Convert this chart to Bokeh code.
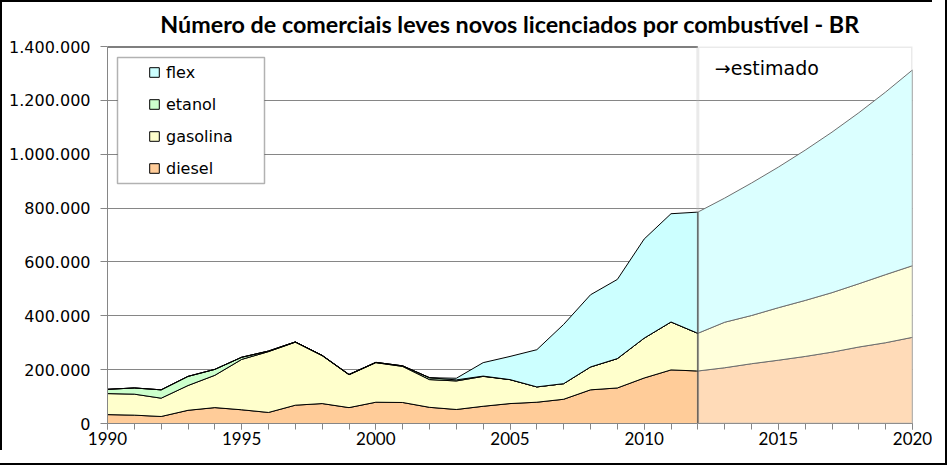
import numpy as np
from bokeh.plotting import figure
from bokeh.models import (Range1d, FixedTicker, Legend, LegendItem, BoxAnnotation, Label)
from bokeh.embed import file_html
from bokeh.resources import INLINE

title_text = "Número de comerciais leves novos licenciados por combustível - BR"
estimated_text = "→estimado"

# historical data (licensed units per fuel)
years_hist = list(range(1990, 2013))
diesel_hist = [33000, 31000, 26000, 49000, 59000, 51000, 41000, 68000, 74000, 59000,
               79000, 78000, 60000, 52000, 64000, 74000, 79000, 90000, 125000, 132000,
               169000, 199000, 195000]
gasolina_hist = [78000, 78000, 68000, 92000, 120000, 187000, 226000, 234000, 178000, 122000,
                 147000, 134000, 103000, 106000, 111000, 89000, 57000, 58000, 85000, 109000,
                 148000, 178000, 140000]
etanol_hist = [16000, 23000, 31000, 34000, 22000, 8000, 2000, 1000, 1000, 1000,
               1000, 2000, 7000, 4000, 1000, 0, 0, 0, 0, 0,
               0, 0, 0]
flex_hist = [0, 0, 0, 0, 0, 0, 0, 0, 0, 0,
             0, 0, 0, 6000, 50000, 86000, 138000, 220000, 268000, 294000,
             368000, 402000, 450000]

# estimated data
years_est = list(range(2012, 2021))
diesel_est = [195000, 207000, 222000, 235000, 249000, 265000, 284000, 300000, 320000]
gasolina_est = [140000, 169000, 179000, 195000, 208000, 221000, 235000, 253000, 266000]
flex_est = [450000, 461000, 492000, 522000, 558000, 596000, 635000, 678000, 727000]

y_ticks = [0, 200000, 400000, 600000, 800000, 1000000, 1200000, 1400000]
y_tick_labels = ["0", "200.000", "400.000", "600.000", "800.000", "1.000.000", "1.200.000", "1.400.000"]
x_ticks = [1990, 1995, 2000, 2005, 2010, 2015, 2020]
x_tick_labels = ["1990", "1995", "2000", "2005", "2010", "2015", "2020"]
x_minor = list(range(1990, 2021))

col_hist = {"diesel": "#FFCC99", "gasolina": "#FFFFCC", "etanol": "#CCFFCC", "flex": "#CCFFFF"}
col_est = {"diesel": "#FFDBB8", "gasolina": "#FFFFDB", "flex": "#DBFFFF"}

p = figure(width=932, height=450, output_backend="svg", toolbar_location=None,
           x_range=Range1d(x_ticks[0], x_ticks[-1]), y_range=Range1d(y_ticks[0], y_ticks[-1]),
           min_border_left=105, min_border_right=22, min_border_top=43, min_border_bottom=29)
p.outline_line_color = None
p.background_fill_color = "white"
p.border_fill_color = "white"
p.styles = {"border-left": "2px solid black", "border-top": "2px solid black",
            "outline": "2px solid black", "outline-offset": "13px"}

p.title.text = title_text
p.title.text_font = "Lato"
p.title.text_font_style = "bold"
p.title.text_font_size = "23.3px"
p.title.text_color = "black"
p.title.align = "center"
p.title.vertical_align = "top"
p.title.standoff = 14


def stack_patches(years, layers, colors, line_color):
    yrs = np.array(years, dtype=float)
    base = np.zeros(len(years))
    rends = {}
    for name, vals in layers:
        top = base + np.array(vals, dtype=float)
        xs = np.concatenate([yrs, yrs[::-1]])
        ys = np.concatenate([top, base[::-1]])
        rends[name] = p.patch(xs, ys, fill_color=colors[name], line_color=line_color, line_width=1)
        base = top
    return rends


r_est = stack_patches(years_est, [("diesel", diesel_est), ("gasolina", gasolina_est), ("flex", flex_est)],
                      col_est, "#6E6E6E")
r_hist = stack_patches(years_hist, [("diesel", diesel_hist), ("gasolina", gasolina_hist),
                                    ("etanol", etanol_hist), ("flex", flex_hist)],
                       col_hist, "black")

# axes
p.xaxis.ticker = FixedTicker(ticks=x_ticks, minor_ticks=x_minor)
p.xaxis.major_label_overrides = dict(zip(x_ticks, x_tick_labels))
p.xaxis.major_label_text_font = "Lato"
p.xaxis.major_label_text_font_size = "17px"
p.xaxis.major_label_text_color = "black"
p.xaxis.major_label_standoff = 2
p.xaxis.axis_line_color = "#868686"
p.xaxis.major_tick_line_color = "#868686"
p.xaxis.minor_tick_line_color = "#868686"
p.xaxis.major_tick_out = 6
p.xaxis.major_tick_in = 0
p.xaxis.minor_tick_out = 6
p.xaxis.minor_tick_in = 0

p.yaxis.ticker = FixedTicker(ticks=y_ticks)
p.yaxis.major_label_overrides = dict(zip(y_ticks, y_tick_labels))
p.yaxis.major_label_text_font = "DejaVu Sans"
p.yaxis.major_label_text_font_size = "16px"
p.yaxis.major_label_text_color = "black"
p.yaxis.major_label_standoff = 10
p.yaxis.axis_line_color = "#868686"
p.yaxis.major_tick_line_color = "#868686"
p.yaxis.minor_tick_line_color = None
p.yaxis.major_tick_out = 7
p.yaxis.major_tick_in = 0

p.xgrid.grid_line_color = None
p.ygrid.ticker = FixedTicker(ticks=y_ticks)
p.ygrid.grid_line_color = "#868686"
p.ygrid.grid_line_width = 1

# top line of plot area over the historical part
p.segment(x0=[years_hist[0]], x1=[years_hist[-1]], y0=[y_ticks[-1]], y1=[y_ticks[-1]],
          line_color="black", line_width=2)

# estimated region frame
p.add_layout(BoxAnnotation(left=years_est[0], right=years_est[-1], bottom=y_ticks[0], top=y_ticks[-1],
                           fill_alpha=0, line_color="#B8B8B8", line_width=3, level="overlay"))

p.add_layout(Label(x=years_est[0], y=y_ticks[-1], x_offset=17, y_offset=-21, text=estimated_text,
                   text_baseline="middle", text_font="DejaVu Sans", text_font_size="19px",
                   text_color="black"))

# legend box
p.add_layout(BoxAnnotation(left=10, right=157, top=366, bottom=240,
                           left_units="screen", right_units="screen",
                           top_units="screen", bottom_units="screen",
                           fill_color="white", fill_alpha=1, line_color="black", line_width=1.5))

items = [LegendItem(label=n, renderers=[r_hist[n]]) for n in ["flex", "etanol", "gasolina", "diesel"]]
legend = Legend(items=items, location=(41, 245), orientation="vertical", padding=0, margin=0,
                spacing=12, glyph_width=12, glyph_height=12, label_height=20, label_standoff=6,
                label_text_font="DejaVu Sans", label_text_font_size="16px", label_text_color="black",
                border_line_alpha=0, background_fill_alpha=0)
p.add_layout(legend)

open("out.html", "w").write(file_html(p, INLINE))
